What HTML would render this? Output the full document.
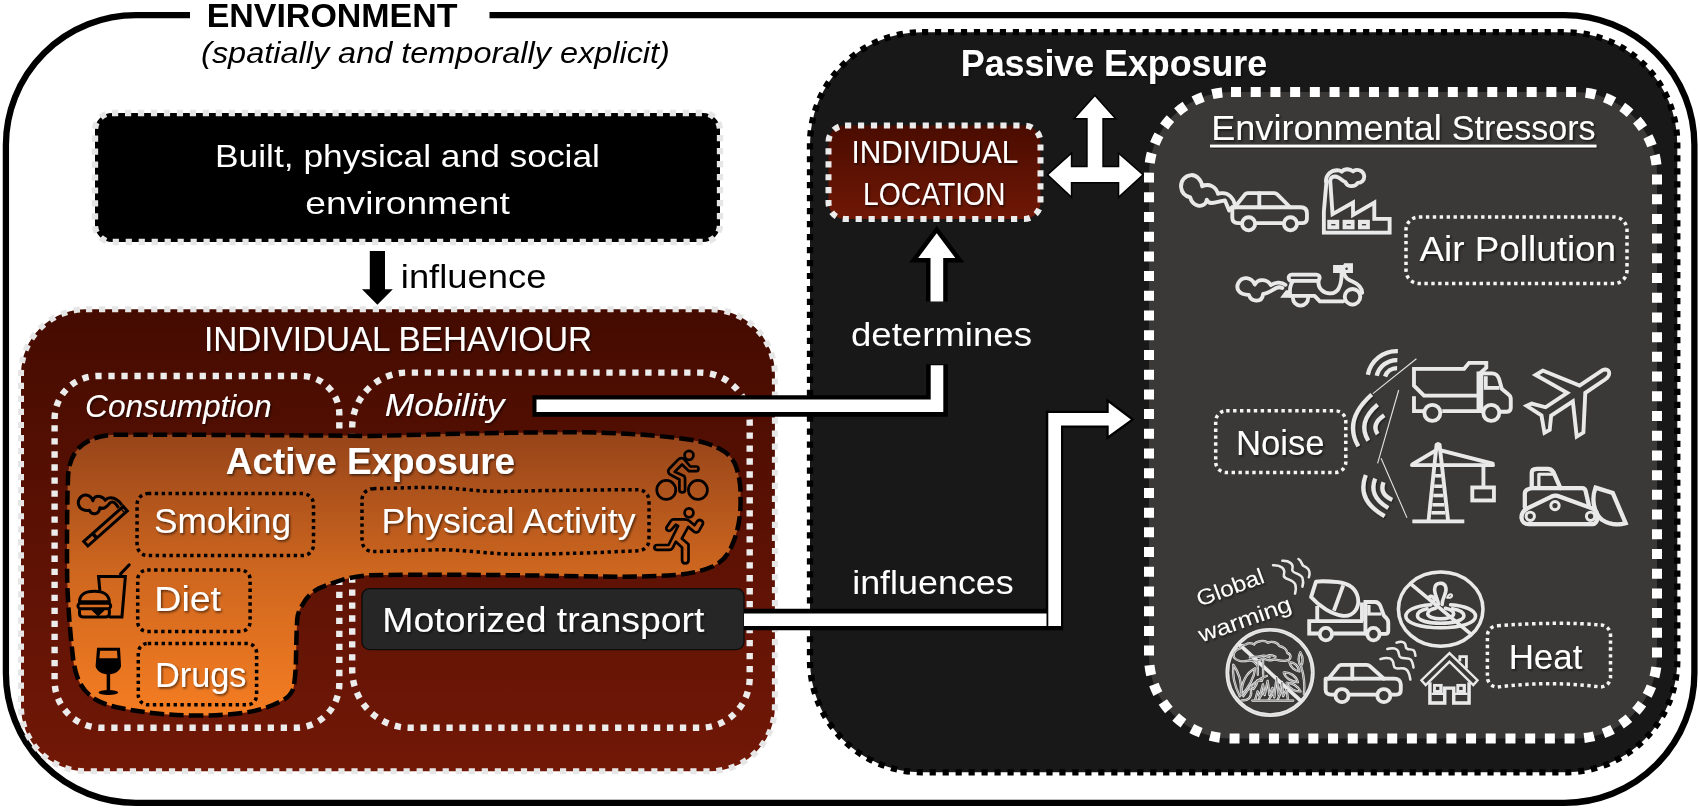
<!DOCTYPE html>
<html><head><meta charset="utf-8"><title>Environment exposure diagram</title>
<style>
html,body{margin:0;padding:0;background:#fff;}
body{width:1700px;height:809px;overflow:hidden;font-family:"Liberation Sans",sans-serif;}
svg{display:block;}
text{font-family:"Liberation Sans",sans-serif;}
</style></head><body>
<svg width="1700" height="809" viewBox="0 0 1700 809">
<defs>
<linearGradient id="gIB" x1="0" y1="0" x2="0" y2="1"><stop offset="0" stop-color="#450b00"/><stop offset="0.55" stop-color="#5e1204"/><stop offset="1" stop-color="#721807"/></linearGradient>
<linearGradient id="gIL" x1="0" y1="0" x2="0" y2="1"><stop offset="0" stop-color="#4a0c00"/><stop offset="1" stop-color="#701806"/></linearGradient>
<linearGradient id="gAE" x1="0" y1="0" x2="0" y2="1"><stop offset="0" stop-color="#96441a"/><stop offset="0.5" stop-color="#cf671f"/><stop offset="1" stop-color="#f57d22"/></linearGradient>
<filter id="ts" x="-5%" y="-20%" width="110%" height="150%"><feDropShadow dx="1.3" dy="1.6" stdDeviation="1.1" flood-color="#000" flood-opacity="0.6"/></filter>
<filter id="is" x="-10%" y="-10%" width="125%" height="125%"><feDropShadow dx="1" dy="1.2" stdDeviation="0.9" flood-color="#000" flood-opacity="0.55"/></filter>
</defs>
<rect width="1700" height="809" fill="#fff"/>
<g opacity="0.999">

<path d="M190,15.1 H135.9 A130,130 0 0 0 5.9,145.1 V672.9 A130,130 0 0 0 135.9,802.9 H1564.4 A130,130 0 0 0 1694.4,672.9 V145.1 A130,130 0 0 0 1564.4,15.1 H489.5" fill="none" stroke="#000" stroke-width="6.3"/>
<text x="206.625" y="27.4" font-size="32.5" fill="#000" font-weight="bold" font-style="normal" textLength="250.9" lengthAdjust="spacingAndGlyphs">ENVIRONMENT</text>
<text x="201.1" y="62.6" font-size="30" fill="#000" font-weight="normal" font-style="italic" textLength="468.8" lengthAdjust="spacingAndGlyphs">(spatially and temporally explicit)</text>
<path d="M112,113 H703 A17,17 0 0 1 720,130 V225 A17,17 0 0 1 703,242 H112 A17,17 0 0 1 95,225 V130 A17,17 0 0 1 112,113 Z" fill="#000" stroke="#e6e6e6" stroke-width="6.3" stroke-dasharray="6.200 6.772" stroke-dashoffset="0"/>
<text x="215.04" y="167.0" font-size="32" fill="#fff" font-weight="normal" font-style="normal" textLength="384.9" lengthAdjust="spacingAndGlyphs">Built, physical and social</text>
<text x="305.24" y="214.0" font-size="32" fill="#fff" font-weight="normal" font-style="normal" textLength="204.5" lengthAdjust="spacingAndGlyphs">environment</text>
<path d="M369.8,251 H385 V289.3 H392.8 L377.4,304.8 L362,289.3 H369.8 Z" fill="#000"/>
<text x="400.81" y="287.6" font-size="33" fill="#000" font-weight="normal" font-style="normal" textLength="145.6" lengthAdjust="spacingAndGlyphs">influence</text>
<path d="M86,309.3 H709.9 A65,65 0 0 1 774.9,374.3 V706.3 A65,65 0 0 1 709.9,771.3 H86 A65,65 0 0 1 21,706.3 V374.3 A65,65 0 0 1 86,309.3 Z" fill="url(#gIB)" stroke="#e6e6e6" stroke-width="6" stroke-dasharray="6.200 6.835" stroke-dashoffset="0"/>
<text x="203.962" y="350.9" font-size="34.6" fill="#fff" font-weight="normal" font-style="normal" textLength="388.1" lengthAdjust="spacingAndGlyphs" filter="url(#ts)">INDIVIDUAL BEHAVIOUR</text>
<path d="M54.6,419 A43,43 0 0 1 97.6,376 H301.3 A38,38 0 0 1 339.3,414 V683.8 A44,44 0 0 1 295.3,727.8 H101.6 A47,47 0 0 1 54.6,680.8 Z" fill="none" stroke="#ececec" stroke-width="6.4" stroke-dasharray="6.300 6.735"/>
<path d="M352.2,427.6 A55,55 0 0 1 407.2,372.6 H699.7 A50,50 0 0 1 749.7,422.6 V677.8 A50,50 0 0 1 699.7,727.8 H410.2 A58,58 0 0 1 352.2,669.8 Z" fill="none" stroke="#ececec" stroke-width="6.4" stroke-dasharray="6.300 6.672"/>
<text x="85.04" y="417.2" font-size="32" fill="#fff" font-weight="normal" font-style="italic" textLength="186.5" lengthAdjust="spacingAndGlyphs" filter="url(#ts)">Consumption</text>
<text x="384.84000000000003" y="416.4" font-size="32" fill="#fff" font-weight="normal" font-style="italic" textLength="119.6" lengthAdjust="spacingAndGlyphs" filter="url(#ts)">Mobility</text>
<path d="M114,434.8 C150,434.6 250,434.8 370,436 C420,435 450,433.5 475,433.5 C520,432.5 560,432 575,432.2 C610,432.5 635,434 650,435.2 C670,437 688,439 700,441.5 C712,444.5 716,447 720,449 C730,454 734,461 736,466.5 C740,478 741,490 740.5,499 C741,515 738,532 732.5,544 C728,556 722,562 712.5,566.5 C700,572 688,574 675,575 C650,577 620,576.8 600,576.5 C550,575.8 480,574.5 425,574.75 C400,574.8 385,575 370,575.2 C358,576 348,578 341.3,580.2 C332,583 324,586 318.3,588.6 C311,593 306,598 303,604 C299,610 297.5,615 297.2,619.3 C296.5,632 296.2,645 296,657.6 C295.8,670 295,680 293.4,688.3 C291,695 286,699 280,701.7 C270,707 260,710 249.3,711.9 C235,714.3 215,715.6 195,715.6 C170,715.4 148,713 126.7,709.3 C114,707 104,704.5 96,699.8 C88,695 82,688 78.7,680.6 C75.5,673 73.8,665 73,657.6 C70,632 68,606 67.2,581 C66.8,545 67,505 68,478 C68.5,455 80,436.5 114,434.8 Z" fill="url(#gAE)" stroke="#000" stroke-width="4.5" stroke-dasharray="14.3 5.2"/>
<text x="225.872" y="474.1" font-size="37.6" fill="#fff" font-weight="bold" font-style="normal" textLength="289.3" lengthAdjust="spacingAndGlyphs" filter="url(#ts)">Active Exposure</text>
<path d="M147.85000000000002,493.6 H302.7 A10.8,10.8 0 0 1 313.5,504.40000000000003 V544.8000000000001 A10.8,10.8 0 0 1 302.7,555.6 H147.85000000000002 A10.8,10.8 0 0 1 137.05,544.8000000000001 V504.40000000000003 A10.8,10.8 0 0 1 147.85000000000002,493.6 Z" fill="none" stroke="#000" stroke-width="3.5" stroke-dasharray="3.4 3.5"/>
<text x="153.95" y="533.1" font-size="35" fill="#fff" font-weight="normal" font-style="normal" textLength="137.1" lengthAdjust="spacingAndGlyphs" filter="url(#ts)">Smoking</text>
<path d="M373,488.7 C395,488.2 415,487.3 432,487.4 C455,487.6 475,491.3 496,491.4 C515,491.5 530,490.7 550,490.5 C580,490.2 610,489.7 638,489.7 A11,11 0 0 1 649,500.7 V539.8 A11,11 0 0 1 638,550.8 C615,551.5 590,553.2 569,553.4 C550,553.8 532,554.6 514,554.3 C490,553.8 465,549.9 441,549.8 C420,549.8 395,551.5 373,551.6 A11,11 0 0 1 362,540.6 V499.7 A11,11 0 0 1 373,488.7 Z" fill="none" stroke="#000" stroke-width="3.5" stroke-dasharray="3.4 3.5"/>
<text x="381.55" y="533.1" font-size="35" fill="#fff" font-weight="normal" font-style="normal" textLength="254.0" lengthAdjust="spacingAndGlyphs" filter="url(#ts)">Physical Activity</text>
<path d="M147.2,570 H240.6 A9.5,9.5 0 0 1 250.1,579.5 V621.9 A9.5,9.5 0 0 1 240.6,631.4 H147.2 A9.5,9.5 0 0 1 137.7,621.9 V579.5 A9.5,9.5 0 0 1 147.2,570 Z" fill="none" stroke="#000" stroke-width="3.5" stroke-dasharray="3.4 3.5"/>
<text x="154.35" y="611.4" font-size="35" fill="#fff" font-weight="normal" font-style="normal" textLength="66.7" lengthAdjust="spacingAndGlyphs" filter="url(#ts)">Diet</text>
<path d="M147.8,643.4 H247.10000000000002 A9.5,9.5 0 0 1 256.6,652.9 V695.3 A9.5,9.5 0 0 1 247.10000000000002,704.8 H147.8 A9.5,9.5 0 0 1 138.3,695.3 V652.9 A9.5,9.5 0 0 1 147.8,643.4 Z" fill="none" stroke="#000" stroke-width="3.5" stroke-dasharray="3.4 3.5"/>
<text x="154.95" y="687.4" font-size="35" fill="#fff" font-weight="normal" font-style="normal" textLength="91.6" lengthAdjust="spacingAndGlyphs" filter="url(#ts)">Drugs</text>
<path d="M369.5,588.6 H736.5 A7.5,7.5 0 0 1 744,596.1 V642.1 A7.5,7.5 0 0 1 736.5,649.6 H369.5 A7.5,7.5 0 0 1 362,642.1 V596.1 A7.5,7.5 0 0 1 369.5,588.6 Z" fill="#262626" stroke="#0c0c0c" stroke-width="1.3"/>
<text x="382.36499999999995" y="632.2" font-size="34.5" fill="#fff" font-weight="normal" font-style="normal" textLength="322.0" lengthAdjust="spacingAndGlyphs" filter="url(#ts)">Motorized transport</text>
<path d="M922,32.2 H1565.3 A112,112 0 0 1 1677.3,144.2 V660.3 A112,112 0 0 1 1565.3,772.3 H922 A112,112 0 0 1 810,660.3 V144.2 A112,112 0 0 1 922,32.2 Z" fill="#181818" stroke="#000" stroke-width="6.3" stroke-dasharray="6.200 6.772" stroke-dashoffset="0"/>
<text x="960.872" y="75.6" font-size="37.6" fill="#fff" font-weight="bold" font-style="normal" textLength="306.3" lengthAdjust="spacingAndGlyphs" filter="url(#ts)">Passive Exposure</text>
<path d="M845.0,125.5 H1024.0 A16.5,16.5 0 0 1 1040.5,142.0 V202.5 A16.5,16.5 0 0 1 1024.0,219 H845.0 A16.5,16.5 0 0 1 828.5,202.5 V142.0 A16.5,16.5 0 0 1 845.0,125.5 Z" fill="url(#gIL)" stroke="#ececec" stroke-width="6" stroke-dasharray="6.200 6.748" stroke-dashoffset="0"/>
<text x="851.585" y="163" font-size="30.5" fill="#fff" font-weight="normal" font-style="normal" textLength="166.8" lengthAdjust="spacingAndGlyphs" filter="url(#ts)">INDIVIDUAL</text>
<text x="863.085" y="204.5" font-size="30.5" fill="#fff" font-weight="normal" font-style="normal" textLength="142.3" lengthAdjust="spacingAndGlyphs" filter="url(#ts)">LOCATION</text>
<path d="M1094.9,96.6 L1114.1,117.9 H1102.3 V167.3 H1119.3 V154.7 L1142,174.7 L1119.3,195.5 V182.1 H1070.8 V195.5 L1048.6,174.7 L1070.8,154.7 V167.3 H1087.7 V117.9 H1075.6 Z" fill="#fff" stroke="#000" stroke-width="3" paint-order="stroke" stroke-linejoin="miter"/>
<path d="M532.5,406 H937 V364.2" fill="none" stroke="#000" stroke-width="21.6"/>
<path d="M536.5,405.8 H937 V365.3" fill="none" stroke="#fff" stroke-width="12.6"/>
<path d="M930.5,301.5 V258 H918.2 L936.7,233.3 L955.3,258 H943.2 V301.5" fill="#fff" stroke="#000" stroke-width="9" paint-order="stroke" stroke-linejoin="miter" stroke-miterlimit="10"/>
<text x="851.01" y="346" font-size="33" fill="#fff" font-weight="normal" font-style="normal" textLength="181.0" lengthAdjust="spacingAndGlyphs">determines</text>
<path d="M744,619.6 H1049" fill="none" stroke="#000" stroke-width="21.5"/>
<path d="M1048,628 V412.9 H1108.7 V402.7 L1130.8,419.4 L1108.7,435.6 V425.5 H1061 V628 Z" fill="#000" stroke="#000" stroke-width="4.4" stroke-linejoin="miter"/>
<path d="M744,619.8 H1046.5" fill="none" stroke="#fff" stroke-width="12.6"/>
<path d="M1048.3,626 V412.9 H1108.7 V402.7 L1130.8,419.4 L1108.7,435.6 V425.5 H1061 V626 Z" fill="#fff"/>
<text x="852.21" y="593.6" font-size="33" fill="#fff" font-weight="normal" font-style="normal" textLength="161.5" lengthAdjust="spacingAndGlyphs">influences</text>
<path d="M1231,92 H1575 A82,82 0 0 1 1657,174 V656.5 A82,82 0 0 1 1575,738.5 H1231 A82,82 0 0 1 1149,656.5 V174 A82,82 0 0 1 1231,92 Z" fill="#3a3938" stroke="#fff" stroke-width="10" stroke-dasharray="10.000 9.711" stroke-dashoffset="0"/>
<text x="1211.271" y="140.2" font-size="34.3" fill="#fff" font-weight="normal" font-style="normal" textLength="230.5" lengthAdjust="spacingAndGlyphs" filter="url(#ts)">Environmental</text>
<text x="1451.771" y="140.2" font-size="34.3" fill="#fff" font-weight="normal" font-style="normal" textLength="143.8" lengthAdjust="spacingAndGlyphs" filter="url(#ts)">Stressors</text>
<rect x="1210" y="144.6" width="386.5" height="2.8" fill="#fff" filter="url(#ts)"/>
<path d="M1419,217 H1614 A13,13 0 0 1 1627,230 V270.5 A13,13 0 0 1 1614,283.5 H1419 A13,13 0 0 1 1406,270.5 V230 A13,13 0 0 1 1419,217 Z" fill="none" stroke="#f4f4f4" stroke-width="3.5" stroke-dasharray="3.4 3.5"/>
<text x="1419.465" y="261" font-size="34.5" fill="#fff" font-weight="normal" font-style="normal" textLength="196.6" lengthAdjust="spacingAndGlyphs" filter="url(#ts)">Air Pollution</text>
<path d="M1226.2,410.8 H1335.3 A10.5,10.5 0 0 1 1345.8,421.3 V462.0 A10.5,10.5 0 0 1 1335.3,472.5 H1226.2 A10.5,10.5 0 0 1 1215.7,462.0 V421.3 A10.5,10.5 0 0 1 1226.2,410.8 Z" fill="none" stroke="#f4f4f4" stroke-width="3.5" stroke-dasharray="3.4 3.5"/>
<text x="1235.965" y="454.6" font-size="34.5" fill="#fff" font-weight="normal" font-style="normal" textLength="88.6" lengthAdjust="spacingAndGlyphs" filter="url(#ts)">Noise</text>
<path d="M1497.4,625.7 Q1560,621.3 1600.5,625 A10,10 0 0 1 1610.5,635 V677 A10,10 0 0 1 1600.5,687 Q1549,680.3 1497.4,687.1 A10,10 0 0 1 1487.4,677 V635.7 A10,10 0 0 1 1497.4,625.7 Z" fill="none" stroke="#f4f4f4" stroke-width="3.5" stroke-dasharray="3.4 3.5"/>
<text x="1508.665" y="669.4" font-size="34.5" fill="#fff" font-weight="normal" font-style="normal" textLength="73.7" lengthAdjust="spacingAndGlyphs" filter="url(#ts)">Heat</text>
<g transform="translate(70,485) scale(0.08653)" fill="none" stroke="#000" stroke-width="34.7" stroke-linecap="butt" stroke-linejoin="round">
<path d="M159.5,651.8 L206.7,705 L662.5,300.2 L615.3,247 Z" stroke-linejoin="miter"/>
<path d="M262.4,561.2 L308.8,613.6" stroke-width="42" stroke-linecap="butt"/>
<path d="M587.6,272.5 L634,324.9" stroke-width="16" stroke-linecap="butt"/>
<path d="M600,232 C570,188 520,150 470,148 C440,147 420,160 405,175 C385,138 330,118 290,140 C275,150 268,165 265,182 C240,112 160,92 115,150 C80,195 95,262 150,285 C180,298 205,296 225,292 C250,348 335,352 345,262 C390,287 430,247 455,215 C475,192 500,190 520,210 C535,225 550,245 562,264"/>
</g>
<g transform="translate(70,560) scale(0.08653)" fill="none" stroke="#000" stroke-width="34.7" stroke-linecap="round" stroke-linejoin="round">
<path d="M345,350 L330,190 H640 L600,660 H465" stroke-linejoin="miter"/>
<path d="M585,185 V160 L685,55"/>
<path d="M110,482 C110,400 180,360 282,360 C380,360 452,400 455,482 Z"/>
<rect x="92" y="500" width="378" height="62" rx="31"/>
<path d="M110,580 V618 C110,650 130,660 160,660 H410 C440,660 455,650 455,618 V580"/>
<path d="M262,583 L325,642 L388,583 Z" fill="#000" stroke-width="14"/>
</g>
<g transform="translate(75,640) scale(0.08653)" fill="#000" stroke="none">
<path d="M255,90 H520 L532,300 C522,362 450,397 385,397 C320,397 248,362 238,300 Z M290,125 L282,212 H492 L485,125 Z" fill-rule="evenodd"/>
<rect x="366" y="390" width="40" height="205"/>
<ellipse cx="385" cy="607" rx="113" ry="28"/></g>
<g transform="translate(645,440) scale(0.09889)" fill="none" stroke="#000" stroke-width="27.3" stroke-linecap="round" stroke-linejoin="round">
<circle cx="445" cy="155" r="45"/>
<circle cx="215" cy="505" r="96"/>
<circle cx="535" cy="505" r="96"/>
<path d="M520,268 C548,268 548,315 520,315 H445 L375,248 L300,322 L385,358 C400,365 405,375 405,392 V505 C405,538 348,538 348,505 V400 L258,352 C230,335 228,310 248,288 L335,198 C355,178 385,180 402,200 L458,268 Z"/>
</g>
<g transform="translate(645,500) scale(0.09889)" fill="none" stroke="#000" stroke-width="27.3" stroke-linecap="round" stroke-linejoin="round">
<circle cx="445" cy="130" r="45"/>
<path d="M285,195 H400 C420,195 435,200 450,212 L500,255 L528,215 C548,188 602,212 583,247 L548,310 C535,332 510,332 495,320 L437,272 L372,390 L440,448 V610 C440,652 375,652 375,610 V480 L312,422 L278,488 C270,500 262,505 245,505 H125 C85,505 85,455 125,455 H238 L335,262 L312,250 L265,302 C242,325 200,300 220,272 L258,215 C266,202 274,195 285,195 Z"/>
</g>
<g transform="translate(1170,160) scale(0.09888)" fill="none" stroke="#e9e9e9" stroke-width="38.4" stroke-linecap="round" stroke-linejoin="round" filter="url(#is)">
<path d="M712,638 H690 C650,638 630,620 630,585 V478 H1320 C1362,478 1385,500 1385,540 V590 C1385,622 1370,638 1340,638 H1300"/>
<path d="M880,638 H1135"/>
<path d="M655,478 L760,345 C768,337 775,335 785,335 H1055 C1068,335 1075,338 1085,348 L1215,478"/>
<path d="M903,335 V478"/>
<circle cx="795" cy="645" r="66"/><circle cx="1218" cy="645" r="66"/>
<path d="M655,448 C640,380 590,332 525,335 C510,336 495,338 485,342 C465,270 395,232 325,265 C318,200 265,150 215,152 C150,155 105,215 112,275 C118,330 155,365 205,378 C220,450 300,492 355,440 C365,430 370,415 372,400 C380,425 395,435 420,435 C460,432 510,415 555,408 L598,510 L628,478"/>
</g>
<g transform="translate(1310,160) scale(0.09891)" fill="none" stroke="#e9e9e9" stroke-width="38.4" stroke-linecap="round" stroke-linejoin="round" filter="url(#is)">
<path d="M168,200 L140,525 V735 H805 V595 H650 V430 L435,555 V430 L228,548 L205,215" stroke-linejoin="miter" stroke-linecap="butt"/>
<g fill="#e9e9e9" stroke="none"><rect x="175" y="605" width="120" height="95"/><rect x="330" y="605" width="120" height="95"/><rect x="485" y="605" width="120" height="95"/></g>
<g fill="#3a3938" stroke="none"><rect x="215" y="647" width="42" height="14"/><rect x="370" y="647" width="42" height="14"/><rect x="525" y="647" width="42" height="14"/></g>
<path d="M160,215 C165,140 220,95 290,105 C300,107 312,112 320,118 C345,88 400,84 435,115 C465,85 540,100 548,160 C552,205 520,232 482,232 C455,274 375,277 358,222 C335,215 310,190 290,178 C265,165 235,162 215,180 C208,190 204,200 203,218"/>
</g>
<g transform="translate(1225,250) scale(0.08824)" fill="none" stroke="#e9e9e9" stroke-width="43.1" stroke-linecap="round" stroke-linejoin="round" filter="url(#is)">
<path d="M755,280 H1035 C1085,280 1085,350 1035,350 H755 C710,350 710,280 755,280 Z"/>
<path d="M770,352 C740,390 730,450 738,520 H1015 L1075,582 H1340"/>
<path d="M1060,350 C1050,440 1120,495 1195,492 C1290,488 1322,400 1322,260"/>
<path d="M1345,255 C1360,320 1400,340 1450,360 C1510,385 1550,430 1555,485"/>
<circle cx="1445" cy="530" r="88"/>
<path d="M770,545 A86,86 0 0 0 942,545"/>
<path d="M1225,170 L1340,170 L1350,150 H1450 V262 H1225 Z" fill="#e9e9e9" stroke="none"/>
<circle cx="1378" cy="212" r="14" fill="#3a3938" stroke="none"/>
<path d="M625,542 L690,455 H745 V542 Z" fill="#e9e9e9" stroke="none"/>
<path d="M685,395 C640,355 560,365 520,398 C480,325 370,320 338,392 C300,300 190,295 150,375 C120,440 160,510 270,508 C300,592 420,602 432,498 C480,495 540,450 580,430 C610,418 630,420 650,430"/>
</g>
<g transform="translate(1345,340) scale(0.11125)" fill="none" stroke="#e9e9e9" stroke-width="34.2" stroke-linecap="round" stroke-linejoin="round" filter="url(#is)">
<path d="M620,260 H1070 L1115,205 H1270 V248 L1212,300 H1200 V500 H710 L620,410 Z" stroke-linejoin="miter"/>
<path d="M620,505 V640 H715 M875,640 H1235 M1200,500 V640" stroke-linejoin="miter" stroke-linecap="butt"/>
<path d="M1225,640 V300 H1320 C1360,300 1375,320 1385,350 L1410,440 L1470,490 C1485,500 1490,512 1490,530 V610 C1490,635 1475,645 1455,645 H1395" stroke-linejoin="miter"/>
<path d="M1265,325 V430 H1388" stroke-linejoin="miter" stroke-linecap="butt"/>
<circle cx="785" cy="655" r="72"/><circle cx="1315" cy="655" r="72"/>
<g stroke-width="38" stroke-linecap="butt">
<path d="M205,312 A265,265 0 0 1 475,100"/>
<path d="M285,322 A185,185 0 0 1 470,180"/>
<path d="M360,328 A113,113 0 0 1 468,252"/></g>
</g>
<g fill="none" stroke="#e9e9e9" stroke-width="4.2" filter="url(#is)">
<path d="M1371.7,394.5 Q1343,420 1358.3,446.2"/>
<path d="M1377.6,404.6 Q1357,422 1368.2,440.6"/>
<path d="M1384.2,415.2 Q1371,424 1377.6,434"/>
<path d="M1365.8,475.1 Q1356,500 1384.6,516.2"/>
<path d="M1375.2,478.6 Q1368,496 1388.2,508"/>
<path d="M1383.5,482.2 Q1379,494 1392.2,499.8"/>
</g>
<g fill="none" stroke="#e4e4e4" stroke-width="1.1">
<path d="M1416.4,358.8 L1372.9,393.6"/><path d="M1398.7,390 L1377.6,463.4"/><path d="M1381.1,458.2 L1407,517.9"/></g>
<g transform="translate(1515,350) scale(0.11121)" fill="none" stroke="#e9e9e9" stroke-width="34.2" stroke-linecap="round" stroke-linejoin="round" filter="url(#is)">
<path d="M580,320 L250,185 L185,225 L470,385 L275,515 L150,482 L105,502 L238,588 L265,745 L312,718 L325,590 L520,462 L555,778 L615,742 L632,385 L810,265 C872,222 850,158 790,180 Z" stroke-linejoin="miter"/>
</g>
<g transform="translate(1400,430) scale(0.12358)" fill="none" stroke="#e9e9e9" stroke-width="30.7" stroke-linecap="round" stroke-linejoin="round" filter="url(#is)">
<path d="M100,740 H520" stroke-linecap="butt"/>
<path d="M232,725 L296,118 M388,725 L320,118 M308,112 V150"/>
<path d="M255,670 H365 M262,605 H358 M270,530 H350 M277,455 H343 M284,370 H336" stroke-width="28" stroke-linecap="butt"/>
<path d="M98,285 H752"/>
<path d="M100,278 L290,165 M330,165 L750,272"/>
<path d="M675,290 V455" stroke-linecap="butt"/>
<rect x="585" y="465" width="175" height="105" stroke-linejoin="miter"/>
</g>
<g transform="translate(1510,455) scale(0.09886)" fill="none" stroke="#e9e9e9" stroke-width="42.5" stroke-linecap="round" stroke-linejoin="round" filter="url(#is)">
<path d="M175,540 L420,420 C440,412 480,412 500,420 L830,540 C905,570 900,700 830,700 H190 C100,700 90,590 175,540 Z"/>
<circle cx="205" cy="620" r="42" stroke-width="30"/><circle cx="455" cy="512" r="42" stroke-width="30"/><circle cx="815" cy="620" r="42" stroke-width="30"/>
<path d="M150,530 V390 C150,370 160,360 175,350 L215,335 H730 C750,335 760,345 765,365 L800,520"/>
<path d="M220,335 V180 C220,150 240,140 270,140 H380 C410,140 425,150 440,175 L510,335"/>
<path d="M292,335 V195 H428" stroke-width="32"/>
<path d="M865,330 L1040,385 L1170,690 C1090,712 1000,700 930,655 C850,590 820,450 865,330 Z" stroke-linejoin="miter"/>
</g>
<g fill="#fff" filter="url(#ts)" font-size="22">
<text transform="translate(1199.8,606.8) rotate(-20.6)" textLength="70.5" lengthAdjust="spacingAndGlyphs">Global</text>
<text transform="translate(1201.6,642.6) rotate(-19.4)" textLength="97" lengthAdjust="spacingAndGlyphs">warming</text></g>
<g transform="translate(1190,560) scale(0.12353)" fill="none" stroke="#e9e9e9" stroke-width="30.8" stroke-linecap="round" stroke-linejoin="round" filter="url(#is)">
<path d="M1020,175 L980,300 C1050,380 1150,440 1240,452 C1330,458 1372,380 1360,310 C1345,230 1280,190 1200,180 C1130,172 1060,170 1020,175 Z"/>
<path d="M1240,205 L1165,410" stroke-linecap="butt"/>
<path d="M1040,595 H965 V495 H1400 M1160,595 H1425" stroke-linejoin="miter" stroke-linecap="butt"/>
<path d="M1030,372 V495 M1392,345 V495" stroke-linecap="butt"/>
<path d="M1420,595 V340 H1500 C1520,340 1530,350 1540,370 L1570,450 L1590,470 C1600,480 1605,492 1605,510 V575 C1605,590 1595,598 1580,598 H1545" stroke-linejoin="miter"/>
<path d="M1448,365 V437 H1548" stroke-linejoin="miter" stroke-linecap="butt" stroke-width="26"/>
<circle cx="1100" cy="600" r="50"/><circle cx="1485" cy="600" r="50"/>
<g stroke-width="20">
<path d="M672,42 C735,38 775,70 760,118 C748,160 835,150 852,198 C862,228 856,250 850,272"/>
<path d="M748,6 C805,4 842,32 828,76 C818,112 900,104 912,150 C920,178 916,196 910,216"/>
<path d="M878,-8 C905,5 900,32 918,48 C948,60 968,78 968,106 C968,120 966,130 962,140"/>
</g>
</g>
<g transform="translate(1390,560) scale(0.12361)" fill="none" stroke="#e9e9e9" stroke-width="28.3" stroke-linecap="round" stroke-linejoin="round" filter="url(#is)">
<ellipse cx="410" cy="398" rx="342" ry="300"/>
<path d="M170,195 L650,595"/>
<path d="M330,362 C200,370 128,410 128,455 C128,510 250,548 410,548 C570,548 692,510 692,455 C692,408 610,370 490,362"/>
<path d="M300,395 C250,405 222,428 222,452 C222,488 305,512 410,512 C515,512 598,488 598,452 C598,425 560,405 505,395"/>
<path d="M372,388 C330,398 305,415 305,435 C305,458 350,475 410,475 C470,475 515,458 515,435 C515,415 490,400 448,390"/>
<path d="M392,358 C385,305 352,265 362,225 C372,178 442,175 452,225 C462,272 420,305 422,360"/>
<path d="M318,300 C335,285 355,300 360,325" stroke-width="30"/>
<path d="M462,305 C470,280 490,270 500,282 C508,295 490,310 462,305 Z" stroke-width="16"/>
</g>
<g transform="translate(1222,625) scale(0.11867)" fill="none" stroke="#e9e9e9" stroke-width="31.2" stroke-linecap="round" stroke-linejoin="round" filter="url(#is)">
<circle cx="405" cy="400" r="360"/>
<circle cx="405" cy="400" r="360" stroke="#c4c4c4" stroke-width="4"/>
<path d="M150,168 L662,638"/>
<g stroke-width="19">
<path d="M200,165 C215,148 255,148 270,165 C290,132 360,125 385,150 C415,132 470,145 480,175 C520,182 548,210 550,235 C590,250 585,295 540,300 C505,308 460,292 440,290 C410,302 370,298 350,282 C330,290 310,300 290,305 C265,300 240,295 222,300 C170,312 120,302 100,270 C92,238 115,205 150,200 C152,182 170,168 200,165 Z"/>
<path d="M235,272 C270,262 300,275 330,262 C355,252 380,262 400,272 M380,262 C400,250 430,255 450,268"/>
<path d="M302,312 V420 M346,300 V420 M235,295 C265,305 290,325 302,350"/>
<path d="M150,600 C110,520 85,420 95,335 C135,390 165,470 160,560"/>
<path d="M165,590 C160,480 210,400 280,365 C270,440 230,520 165,590 Z"/>
<path d="M180,600 C230,520 290,470 340,445"/>
<path d="M165,635 C220,640 250,610 245,560 L240,520 L265,540 L290,500 L300,465 L335,470 L345,440 L378,430"/>
<path d="M660,230 C685,270 685,320 665,345 C640,320 640,265 660,230 Z"/>
<path d="M568,312 C610,312 645,345 652,390 C610,385 575,352 568,312 Z"/>
<path d="M520,400 C570,395 625,430 640,482 C590,482 535,450 520,400 Z"/>
<path d="M545,488 C590,485 640,515 662,560 C615,562 565,535 545,488 Z"/>
<path d="M665,345 C690,420 700,500 690,585"/>
<path d="M280,628 L300,560 L318,600 L345,500 L360,590 L385,470 L400,590 L425,530 L440,610 L460,440 L478,590 L505,480 L515,600 L545,540 L555,628"/>
<path d="M310,625 L350,560 M395,625 L430,575 M470,625 L500,560"/>
<path d="M255,637 H600"/>
</g>
<g stroke-width="5" stroke="#5a5958">
<path d="M200,165 C215,148 255,148 270,165 C290,132 360,125 385,150 C415,132 470,145 480,175 C520,182 548,210 550,235 C590,250 585,295 540,300 C505,308 460,292 440,290 C410,302 370,298 350,282 C330,290 310,300 290,305 C265,300 240,295 222,300 C170,312 120,302 100,270 C92,238 115,205 150,200 C152,182 170,168 200,165 Z"/>
<path d="M235,272 C270,262 300,275 330,262 C355,252 380,262 400,272 M380,262 C400,250 430,255 450,268"/>
<path d="M302,312 V420 M346,300 V420 M235,295 C265,305 290,325 302,350"/>
<path d="M150,600 C110,520 85,420 95,335 C135,390 165,470 160,560"/>
<path d="M165,590 C160,480 210,400 280,365 C270,440 230,520 165,590 Z"/>
<path d="M180,600 C230,520 290,470 340,445"/>
<path d="M165,635 C220,640 250,610 245,560 L240,520 L265,540 L290,500 L300,465 L335,470 L345,440 L378,430"/>
<path d="M660,230 C685,270 685,320 665,345 C640,320 640,265 660,230 Z"/>
<path d="M568,312 C610,312 645,345 652,390 C610,385 575,352 568,312 Z"/>
<path d="M520,400 C570,395 625,430 640,482 C590,482 535,450 520,400 Z"/>
<path d="M545,488 C590,485 640,515 662,560 C615,562 565,535 545,488 Z"/>
<path d="M665,345 C690,420 700,500 690,585"/>
<path d="M280,628 L300,560 L318,600 L345,500 L360,590 L385,470 L400,590 L425,530 L440,610 L460,440 L478,590 L505,480 L515,600 L545,540 L555,628"/>
<path d="M310,625 L350,560 M395,625 L430,575 M470,625 L500,560"/>
<path d="M255,637 H600"/>
</g>
</g>
<g transform="translate(1315,640) scale(0.10589)" fill="none" stroke="#e9e9e9" stroke-width="35.9" stroke-linecap="round" stroke-linejoin="round" filter="url(#is)">
<path d="M185,515 H150 C120,515 100,500 100,470 V365 H750 C785,365 810,385 810,420 V470 C810,495 800,515 770,515 H722"/>
<path d="M325,515 H580"/>
<path d="M128,365 L225,245 C232,237 240,235 250,235 H488 C500,235 508,238 518,247 L650,365"/>
<path d="M352,235 V365"/>
<circle cx="255" cy="525" r="62"/><circle cx="650" cy="525" r="62"/>
<g stroke-width="23">
<path d="M618,180 C690,156 738,172 742,232 C748,298 822,248 862,278 C892,302 895,340 900,374"/>
<path d="M683,85 C748,66 788,82 792,132 C798,196 872,156 902,184 C922,204 925,230 930,260"/>
<path d="M770,25 C826,6 856,22 857,62 C860,104 912,78 932,98 C946,112 945,130 948,150"/>
</g>
<path d="M1005,380 L1270,125 L1535,380 L1495,425 L1270,205 L1045,425 Z" stroke-width="22" stroke-linejoin="miter"/>
<path d="M1368,200 V158 H1430 V268" stroke-width="26" stroke-linejoin="miter" stroke-linecap="butt"/>
<path d="M1085,400 V595 H1225 V455 H1310 V595 H1455 V400" stroke-width="32" stroke-linejoin="miter" stroke-linecap="butt"/>
<path d="M1100,508 H1225 M1310,508 H1440" stroke-width="22" stroke-linecap="butt"/>
<g fill="#e9e9e9" stroke="none"><rect x="1115" y="415" width="90" height="85"/><rect x="1335" y="415" width="90" height="85"/></g>
<g fill="#3a3938" stroke="none"><rect x="1142" y="442" width="32" height="30"/><rect x="1362" y="442" width="32" height="30"/></g>
</g>
</g></svg></body></html>
